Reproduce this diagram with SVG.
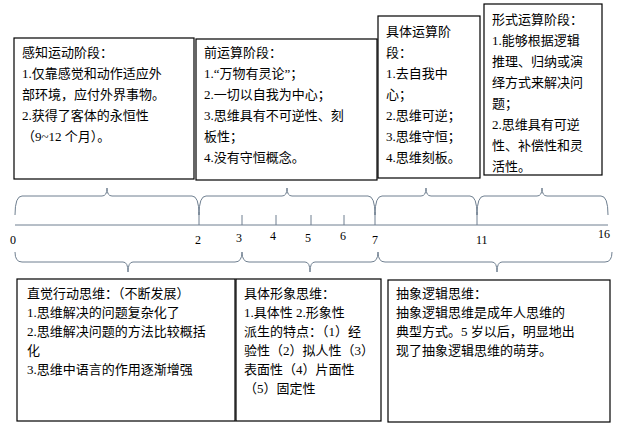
<svg xmlns="http://www.w3.org/2000/svg" width="618" height="429" viewBox="0 0 618 429">
<style>
.b{fill:#fff;stroke:#000;stroke-width:1.2}
.t{font-family:"Liberation Serif","Noto Sans CJK SC",serif;font-size:13px;fill:#000}
.n{font-family:"Liberation Serif",serif;font-size:12px;fill:#000}
.l{fill:none;stroke:#6f7f90;stroke-width:1}
</style>
<rect width="618" height="429" fill="#fff"/>
<g id="stage1"><rect class="b" x="14" y="38" width="180" height="141"/>
<text class="t" x="22" y="57">感知运动阶段：</text><text class="t" x="22" y="78">1.仅靠感觉和动作适应外</text><text class="t" x="22" y="99">部环境，应付外界事物。</text><text class="t" x="22" y="120">2.获得了客体的永恒性</text><text class="t" x="22" y="141">（9~12 个月）。</text></g>
<g id="stage2"><rect class="b" x="196" y="39" width="181" height="141"/>
<text class="t" x="204" y="57">前运算阶段：</text><text class="t" x="204" y="78">1.“万物有灵论”；</text><text class="t" x="204" y="99">2.一切以自我为中心；</text><text class="t" x="204" y="120">3.思维具有不可逆性、刻</text><text class="t" x="204" y="141">板性；</text><text class="t" x="204" y="162">4.没有守恒概念。</text></g>
<g id="stage3"><rect class="b" x="378" y="16" width="102" height="162"/>
<text class="t" x="386" y="36">具体运算阶</text><text class="t" x="386" y="57">段：</text><text class="t" x="386" y="78">1.去自我中</text><text class="t" x="386" y="99">心；</text><text class="t" x="386" y="120">2.思维可逆；</text><text class="t" x="386" y="141">3.思维守恒；</text><text class="t" x="386" y="162">4.思维刻板。</text></g>
<g id="stage4"><rect class="b" x="484" y="4" width="118" height="171"/>
<text class="t" x="492" y="24">形式运算阶段：</text><text class="t" x="492" y="45">1.能够根据逻辑</text><text class="t" x="492" y="66">推理、归纳或演</text><text class="t" x="492" y="87">绎方式来解决问</text><text class="t" x="492" y="108">题；</text><text class="t" x="492" y="129">2.思维具有可逆</text><text class="t" x="492" y="150">性、补偿性和灵</text><text class="t" x="492" y="171">活性。</text></g>
<g id="think1"><rect class="b" x="17" y="279" width="218" height="142"/>
<text class="t" x="27" y="298">直觉行动思维：（不断发展）</text><text class="t" x="27" y="317">1.思维解决的问题复杂化了</text><text class="t" x="27" y="336">2.思维解决问题的方法比较概括</text><text class="t" x="27" y="355">化</text><text class="t" x="27" y="374">3.思维中语言的作用逐渐增强</text></g>
<g id="think2"><rect class="b" x="236" y="279" width="145" height="142"/>
<text class="t" x="244" y="298">具体形象思维：</text><text class="t" x="244" y="317">1.具体性 2.形象性</text><text class="t" x="244" y="336">派生的特点：（1）经</text><text class="t" x="244" y="355">验性（2）拟人性（3）</text><text class="t" x="244" y="374">表面性（4）片面性</text><text class="t" x="244" y="393">（5）固定性</text></g>
<g id="think3"><rect class="b" x="388" y="280" width="222" height="142"/>
<text class="t" x="396" y="298">抽象逻辑思维：</text><text class="t" x="396" y="317">抽象逻辑思维是成年人思维的</text><text class="t" x="396" y="336">典型方式。5 岁以后，明显地出</text><text class="t" x="396" y="355">现了抽象逻辑思维的萌芽。</text></g>
<g id="connectors">
<path class="l" d="M15 215 Q15 196 22 196 H102 Q107 196 107 188 Q107 196 112 196 H192 Q199 196 199 215"/>
<path class="l" d="M199 215 Q199 196 206 196 H282 Q287 196 287 188 Q287 196 292 196 H368 Q375 196 375 215"/>
<path class="l" d="M375 215 Q375 196 382 196 H421 Q426 196 426 188 Q426 196 431 196 H470 Q477 196 477 215"/>
<path class="l" d="M477 215 Q477 196 484 196 H537 Q542 196 542 188 Q542 196 547 196 H601 Q608 196 608 215"/>
<path class="l" d="M15 225 H608 M199 212 V225 M242 215 V225 M276 215 V225 M311 215 V225 M344 215 V225 M375 212 V225 M477 212 V225"/>
<path class="l" d="M15 252 Q15 262 22 262 H123 Q128 262 128 272 Q128 262 133 262 H235 Q242 262 242 252"/>
<path class="l" d="M242 252 Q242 262 249 262 H305 Q310 262 310 272 Q310 262 315 262 H371 Q378 262 378 252"/>
<path class="l" d="M378 252 Q378 262 385 262 H492 Q497 262 497 272 Q497 262 502 262 H605 Q612 262 612 252"/>
</g>
<g id="labels">
<text class="n" x="10" y="244">0</text><text class="n" x="195" y="244">2</text><text class="n" x="236" y="242">3</text><text class="n" x="270" y="240">4</text><text class="n" x="305" y="242">5</text><text class="n" x="340" y="240">6</text><text class="n" x="372" y="244">7</text><text class="n" x="476" y="244">11</text><text class="n" x="598" y="238">16</text>
</g>
</svg>
